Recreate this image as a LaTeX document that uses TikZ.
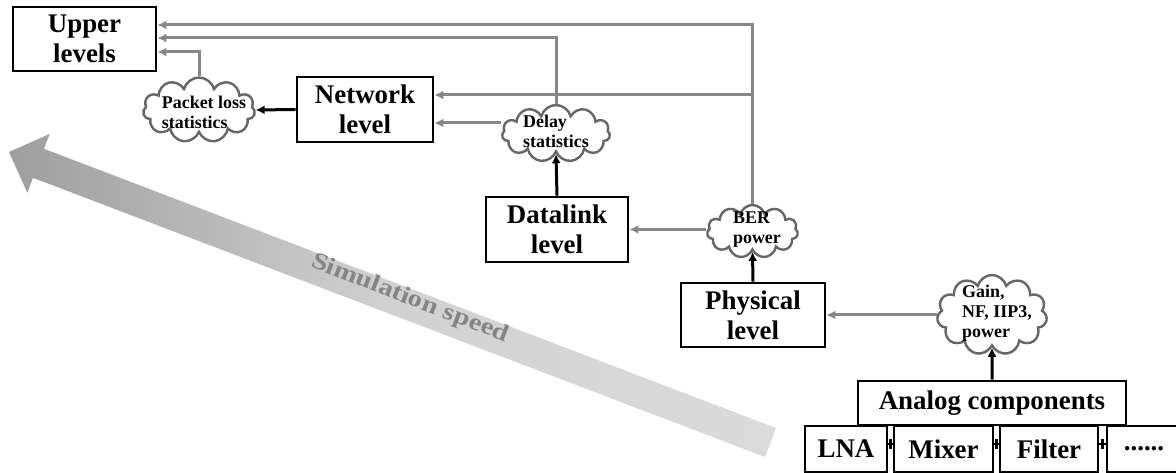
\documentclass[tikz,border=0pt]{standalone}
\usepackage{fontspec}
\setmainfont{Liberation Serif}
\newfontfamily\simfont[FakeStretch=1.2]{Liberation Serif}
\usetikzlibrary{shapes.symbols,arrows.meta,calc}
\begin{document}
\begin{tikzpicture}[x=1bp,y=-1bp,
 box/.style={draw,line width=2.8bp,fill=white,align=center,inner sep=0pt,font=\bfseries\fontsize{27}{30}\selectfont},
 cloudn/.style={cloud,cloud puffs=11,cloud ignores aspect,draw=black!60,line width=2.4bp,fill=white,inner sep=0pt},
 ctext/.style={align=left,font=\bfseries\fontsize{18}{20}\selectfont,inner sep=0pt},
 garrow/.style={draw=black!47,line width=3bp,-{Latex[length=9bp,width=9bp]}},
 barrow/.style={draw=black,line width=3bp,-{Latex[length=9bp,width=9bp]}},
 link/.style={draw=black,line width=2.2bp},
]
\clip (0,0) rectangle (1176,473);
\fill[white] (0,0) rectangle (1176,473);
% simulation speed arrow
\shade[left color=black!38,right color=black!14,middle color=black!18]
  (765,457) -- (33,177.8) -- (27.3,192.7) -- (9,152) -- (49.7,133.9) -- (44,148.8) -- (776,428) -- cycle;
\node[rotate=-21,text=black!48,font=\simfont\bfseries\fontsize{24}{26}\selectfont] (sim) at (410,299) {Simulation speed};
% boxes
\node[box,minimum width=143bp,minimum height=64bp] (upper) at (84.5,39) {Upper\\levels};
\node[box,minimum width=136bp,minimum height=65bp] (net) at (365,109.5) {Network\\level};
\node[box,minimum width=142bp,minimum height=65bp] (dl) at (557,229.5) {Datalink\\level};
\node[box,minimum width=144bp,minimum height=64bp] (phy) at (753,315) {Physical\\level};
\node[box,minimum width=82bp,minimum height=46bp] (lna) at (846,449) {LNA};
\node[box,minimum width=99bp,minimum height=46bp] (mix) at (943.5,449) {Mixer};
\node[box,minimum width=98bp,minimum height=46bp] (filt) at (1049,449) {Filter};
\node[box,minimum width=74bp,minimum height=46bp] (dots) at (1144,449) {......};
\node[box,minimum width=268bp,minimum height=44bp] (analog) at (992,403) {Analog components};
% clouds
\node[cloudn,minimum width=112bp,minimum height=65bp] (pkt) at (199,110) {};
\node[ctext] (pktt) at (204,112) {Packet loss\\statistics};
\node[cloudn,minimum width=108bp,minimum height=57bp] (delay) at (556,133.5) {};
\node[ctext] (delayt) at (556,131) {Delay\\statistics};
\node[cloudn,minimum width=91bp,minimum height=53bp] (ber) at (752.5,231.5) {};
\node[ctext] (bert) at (757,230) {BER\\power};
\node[cloudn,minimum width=110bp,minimum height=80bp] (gain) at (992,315) {};
\node[ctext] (gaint) at (997,313) {Gain,\\NF, IIP3,\\power};
% coordinates
\coordinate (u1) at ($(upper.east)+(0,-14)$);
\coordinate (u2) at ($(upper.east)+(0,-1)$);
\coordinate (u3) at ($(upper.east)+(0,13)$);
\coordinate (n1) at ($(net.east)+(0,-14.5)$);
\coordinate (n2) at ($(net.east)+(0,13.5)$);
% gray connectors
\draw[garrow] (ber.north) -- (ber.north |- u1) -- (u1);
\draw[garrow] (ber.north |- n1) -- (n1);
\draw[garrow] (delay.north) -- (delay.north |- u2) -- (u2);
\draw[garrow] (delay.west |- n2) -- (n2);
\draw[garrow] (pkt.north) -- (pkt.north |- u3) -- (u3);
\draw[garrow] (ber.west |- dl.east) -- (dl.east);
\draw[garrow] (gain.west |- phy.east) -- (phy.east);
% black connectors
\draw[barrow] (net.west) -- (pkt.east);
\draw[barrow] (dl.north) -- (delay.south);
\draw[barrow] (phy.north) -- (ber.south);
\draw[barrow] (analog.north) -- (gain.south);
% links between components
\draw[link] ($(lna.east)+(0,-5)$) -- ($(mix.west)+(0,-5)$);
\draw[link] ($($(lna.east)!0.5!(mix.west)$)+(0,-10)$) -- ++(0,10);
\draw[link] ($(mix.east)+(0,-5)$) -- ($(filt.west)+(0,-5)$);
\draw[link] ($($(mix.east)!0.5!(filt.west)$)+(0,-10)$) -- ++(0,10);
\draw[link] ($(filt.east)+(0,-5)$) -- ($(dots.west)+(0,-5)$);
\draw[link] ($($(filt.east)!0.5!(dots.west)$)+(0,-10)$) -- ++(0,10);
\end{tikzpicture}
\end{document}
